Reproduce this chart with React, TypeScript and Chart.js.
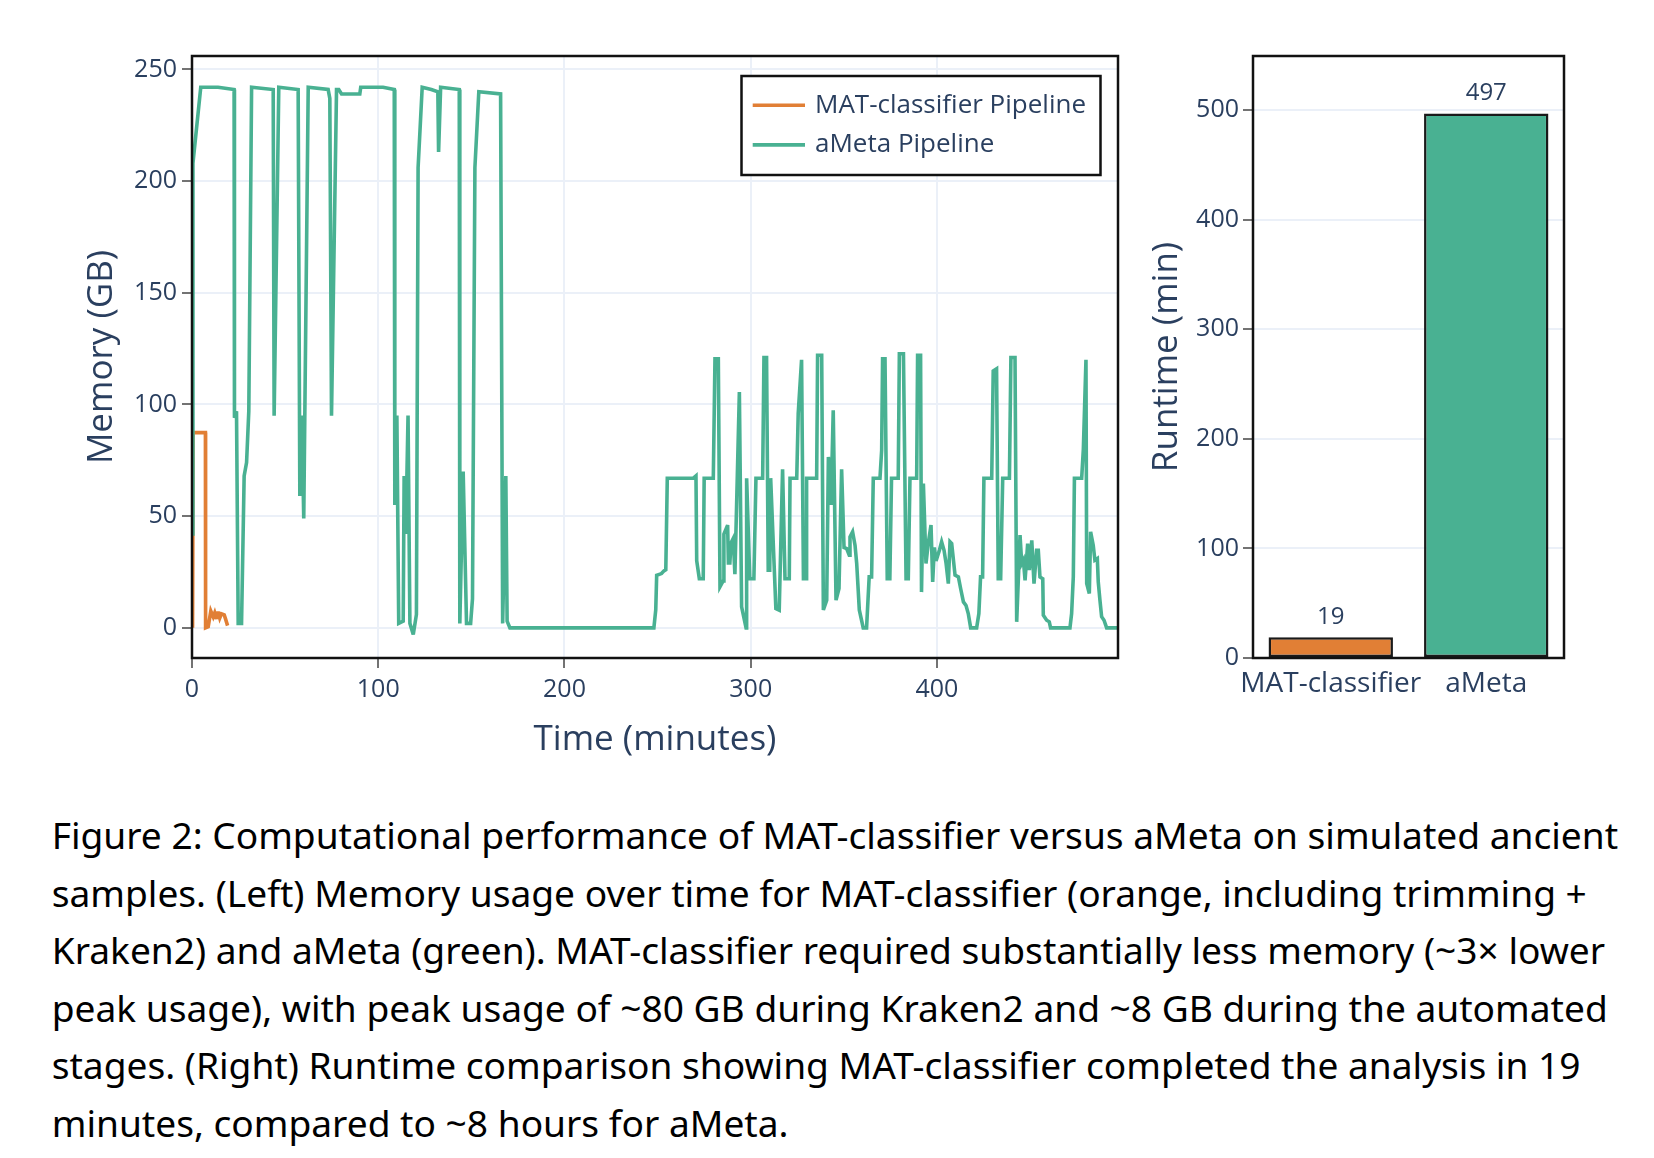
import React, { useEffect, useRef, useState } from 'react';
import { Chart, registerables } from 'chart.js';

Chart.register(...registerables);

const TEXT = '#2a3f5f';
const GRID = '#EBF0F8';
const GREEN = '#49B192';
const ORANGE = '#E17F35';

const seriesNames = ['MAT-classifier Pipeline', 'aMeta Pipeline'];

const matTime = [0.3, 0.6, 7.2, 7.3, 8.7, 10.1, 11.4, 12.2, 13.1, 14, 14.9, 15.8, 17.3, 18, 19.1];
const matMemory = [0, 87.4, 87.4, 0, 0.5, 7.5, 4.9, 6.7, 4, 7.2, 4.4, 6.3, 5.8, 4, 1];

const ametaTime = [
  0, 0.5, 4.7, 14, 22.6, 22.8, 23.9, 24.8, 26.6, 28, 29.3, 30.5, 32, 43.6, 44.1, 46.6, 57, 57.9, 59, 60,
  62.4, 73.1, 74, 74.9, 77.6, 78.8, 80.3, 90.1, 90.6, 102.6, 108.6, 108.9, 110, 111, 113.4, 113.9, 114.8, 116, 117, 118.8,
  120.5, 121.4, 123.6, 128.5, 132, 132.4, 133.5, 143.5, 143.8, 145.6, 147.4, 149.6, 150.6, 151.9, 154, 165.7, 166.8, 168.5, 169.2, 170.7,
  248, 249, 249.5, 252.1, 253.4, 254.4, 255.2, 269.2, 270.6, 271, 272.4, 274.5, 275, 279.9, 280.8, 282.6, 283.5, 285.2, 285.6, 287.6,
  288, 288.8, 289.4, 290.6, 291.5, 293.9, 295.1, 297.5, 297.8, 299.5, 301.7, 302.8, 306.4, 307.1, 308.5, 309.4, 310.2, 310.7, 313.5, 315.3,
  317.1, 318.4, 320.7, 321.1, 324.7, 325.5, 327.3, 328.3, 329.7, 330, 335.4, 335.9, 338.1, 339, 340.8, 341.7, 343.1, 344.3, 345.8, 347.4,
  348.8, 350.1, 351.5, 352.9, 353.3, 354.7, 356, 356.9, 358.3, 360.4, 362.2, 363.6, 364.9, 365.8, 369.4, 370.3, 370.8, 372.1, 373.3, 374.7,
  375.6, 379.2, 379.8, 382, 383.4, 384.6, 385.5, 389.1, 389.6, 391.2, 391.7, 392.7, 394.1, 395.3, 396.8, 397.7, 398.6, 399.5, 401.3, 402.5,
  403.8, 404.9, 406.1, 407, 407.9, 409.7, 411.5, 412.7, 414.2, 415.6, 416.8, 418.1, 421.3, 422.5, 423.4, 424.5, 425.2, 429.4, 430.2, 432,
  432.9, 434.2, 435.3, 438.9, 439.7, 441.9, 442.8, 444.6, 445.5, 446.4, 447.3, 448.7, 449.6, 450.9, 452.1, 453.5, 454.4, 455.3, 456.8, 457.1,
  458.9, 460.3, 461, 471.4, 472.3, 473.2, 473.8, 477.7, 478.6, 480, 480.4, 481.8, 482.5, 483.9, 484.8, 486.1, 486.6, 487.5, 488.4, 489.7,
  491.1, 497.2,
];
const ametaMemory = [
  42, 208, 242, 242, 241, 94, 97, 2, 2, 68, 74, 97, 242, 241, 95, 242, 241, 59, 95, 49,
  242, 241, 237, 95, 241, 241, 239, 239, 242, 242, 241, 55, 95, 2, 3, 68, 42, 95, 2, -3,
  6, 206, 242, 241, 240, 213, 242, 241, 2, 70, 2, 2, 13, 206, 240, 239, 2, 68, 3, 0,
  0, 8, 23.5, 24.3, 25.5, 26, 67, 67, 68, 30, 22, 22, 67, 67, 120.5, 120.5, 18.4, 21, 42, 46,
  29, 29, 38, 40, 24, 105.6, 9.4, 0, 67, 22, 22, 67, 67, 121, 121, 25.8, 25.8, 67, 8.6, 7.9,
  71, 22, 22, 67, 67, 96, 120, 22, 22, 67, 67, 122, 122, 8, 12.4, 76.5, 55, 97.4, 12.4, 17.6,
  71, 36, 35.5, 32.5, 40.7, 43, 37, 28.8, 8, 0, 0, 22.8, 22.8, 67, 67, 79.5, 120.5, 120.5, 22, 22,
  67, 67, 122.7, 122.7, 22, 22, 67, 67, 122, 122, 16, 64.6, 28.8, 37.7, 46, 20.6, 36, 30, 34.7, 38.5,
  34.7, 28.8, 19.8, 38.5, 37.7, 23.6, 22.8, 17.6, 11.6, 10, 6.4, 0, 0, 6.4, 22.8, 22.8, 67, 67, 115, 116,
  22, 22, 67, 67, 121, 121, 2.7, 41.5, 28.8, 30.3, 21.3, 37.7, 25.8, 39.2, 19.8, 34.7, 34.7, 22.8, 22, 5.7,
  3.4, 2.7, 0, 0, 6.4, 22.8, 67, 67, 80, 120, 19.8, 15.4, 43, 37, 30.3, 31, 20.6, 12.4, 5, 3.4,
  0, 0,
];

const timeTicks = [0, 100, 200, 300, 400];
const memoryTicks = [0, 50, 100, 150, 200, 250];

const runtimeCategories = ['MAT-classifier', 'aMeta'];
const runtimeValues = [19, 497];
const runtimeTicks = [0, 100, 200, 300, 400, 500];

const captionLines = [
  'Figure 2: Computational performance of MAT-classifier versus aMeta on simulated ancient',
  'samples. (Left) Memory usage over time for MAT-classifier (orange, including trimming +',
  'Kraken2) and aMeta (green). MAT-classifier required substantially less memory (~3× lower',
  'peak usage), with peak usage of ~80 GB during Kraken2 and ~8 GB during the automated',
  'stages. (Right) Runtime comparison showing MAT-classifier completed the analysis in 19',
  'minutes, compared to ~8 hours for aMeta.',
];

const CAPTION_FONT = '"Noto Sans"';

const fontsReady = () =>
  Promise.all([
    document.fonts.load('25px "Open Sans"'),
    document.fonts.load('35px "Open Sans"'),
    document.fonts.load('34px "Noto Sans"'),
  ]).catch(() => undefined);

const boxPlugin = {
  id: 'plotBox',
  afterDatasetsDraw(chart: any) {
    const { ctx, chartArea: a } = chart;
    ctx.save();
    ctx.strokeStyle = '#111';
    ctx.lineWidth = 2.5;
    ctx.strokeRect(a.left, a.top, a.right - a.left, a.bottom - a.top);
    ctx.restore();
  },
};

const miterPlugin = {
  id: 'miter',
  beforeDatasetsDraw(chart: any) {
    chart.ctx.miterLimit = 4;
  },
};

const legendPlugin = {
  id: 'boxLegend',
  afterDraw(chart: any) {
    const { ctx } = chart;
    const x = 741.5, y = 76, w = 359, h = 99;
    ctx.save();
    ctx.fillStyle = '#fff';
    ctx.fillRect(x, y, w, h);
    ctx.strokeStyle = '#111';
    ctx.lineWidth = 2.5;
    ctx.strokeRect(x, y, w, h);
    chart.data.datasets.forEach((ds: any, i: number) => {
      const ry = 105.3 + i * 39.6;
      ctx.strokeStyle = ds.borderColor;
      ctx.lineWidth = 3.6;
      ctx.beginPath();
      ctx.moveTo(752.7, ry);
      ctx.lineTo(805, ry);
      ctx.stroke();
      ctx.fillStyle = TEXT;
      ctx.font = '26px "Open Sans"';
      ctx.textAlign = 'left';
      ctx.textBaseline = 'middle';
      ctx.fillText(ds.label, 815, ry);
    });
    ctx.restore();
  },
};

const barLabelPlugin = {
  id: 'barLabels',
  afterDatasetsDraw(chart: any) {
    const { ctx } = chart;
    const meta = chart.getDatasetMeta(0);
    const values = chart.data.datasets[0].data;
    ctx.save();
    ctx.fillStyle = TEXT;
    ctx.font = '24px "Open Sans"';
    ctx.textAlign = 'center';
    ctx.textBaseline = 'middle';
    meta.data.forEach((bar: any, i: number) => {
      ctx.fillText(String(values[i]), bar.x, bar.y - 20);
    });
    ctx.restore();
  },
};

const tickFont = { family: 'Open Sans', size: 25 };
const titleFont = { family: 'Open Sans', size: 35 };
const gridOpts = { color: GRID, lineWidth: 2, tickColor: '#444', tickLength: 10, tickWidth: 1.5 };

function MemoryChart() {
  const ref = useRef<HTMLCanvasElement>(null);
  useEffect(() => {
    let chart: Chart | null = null;
    let cancelled = false;
    fontsReady().then(() => {
      if (cancelled || !ref.current) return;
      chart = new Chart(ref.current, {
        type: 'line',
        data: {
          datasets: [
            {
              label: seriesNames[0],
              data: matTime.map((t, i) => ({ x: t, y: matMemory[i] })),
              borderColor: ORANGE,
              backgroundColor: ORANGE,
              borderWidth: 3.6,
              pointRadius: 0,
              tension: 0,
              fill: false,
              order: 1,
            },
            {
              label: seriesNames[1],
              data: ametaTime.map((t, i) => ({ x: t, y: ametaMemory[i] })),
              borderColor: GREEN,
              backgroundColor: GREEN,
              borderWidth: 3.6,
              pointRadius: 0,
              tension: 0,
              fill: false,
              order: 0,
            },
          ],
        },
        options: {
          responsive: false,
          animation: false,
          devicePixelRatio: 1,
          layout: { padding: { left: 0, top: 56, right: 12, bottom: 0 } },
          plugins: { legend: { display: false }, tooltip: { enabled: false } },
          scales: {
            x: {
              type: 'linear',
              min: 0,
              max: 497.2,
              afterBuildTicks: (s: any) => { s.ticks = timeTicks.map((v) => ({ value: v })); },
              afterFit: (s: any) => { s.height = 122; },
              grid: gridOpts,
              border: { display: false },
              ticks: { color: TEXT, font: tickFont, padding: 7, maxRotation: 0, autoSkip: false, callback: (v: any) => String(v) },
              title: { display: true, text: 'Time (minutes)', color: TEXT, font: titleFont, padding: { top: 0, bottom: 19 } },
            },
            y: {
              type: 'linear',
              min: -13.5,
              max: 256,
              afterBuildTicks: (s: any) => { s.ticks = memoryTicks.map((v) => ({ value: v })); },
              afterFit: (s: any) => { s.width = 192; },
              grid: gridOpts,
              border: { display: false },
              ticks: { color: TEXT, font: tickFont, padding: 5, callback: (v: any) => String(v) },
              title: { display: true, text: 'Memory (GB)', color: TEXT, font: titleFont, padding: { top: 81, bottom: 0 } },
            },
          },
        } as any,
        plugins: [miterPlugin, boxPlugin, legendPlugin],
      });
    });
    return () => {
      cancelled = true;
      if (chart) chart.destroy();
    };
  }, []);
  return (
    <canvas
      ref={ref}
      width={1130}
      height={780}
      style={{ position: 'absolute', left: 0, top: 0, width: 1130, height: 780 }}
    />
  );
}

function RuntimeChart() {
  const ref = useRef<HTMLCanvasElement>(null);
  useEffect(() => {
    let chart: Chart | null = null;
    let cancelled = false;
    fontsReady().then(() => {
      if (cancelled || !ref.current) return;
      chart = new Chart(ref.current, {
        type: 'bar',
        data: {
          labels: runtimeCategories,
          datasets: [
            {
              data: runtimeValues,
              backgroundColor: [ORANGE, GREEN],
              borderColor: '#1a1a1a',
              borderWidth: 2.5,
              borderSkipped: false,
              barPercentage: 0.8,
              categoryPercentage: 1.0,
            },
          ],
        },
        options: {
          responsive: false,
          animation: false,
          devicePixelRatio: 1,
          layout: { padding: { left: 0, top: 56, right: 90, bottom: 0 } },
          plugins: { legend: { display: false }, tooltip: { enabled: false } },
          scales: {
            x: {
              afterFit: (s: any) => { s.height = 122; },
              grid: { display: false, drawTicks: false },
              border: { display: false },
              ticks: { color: TEXT, font: { family: 'Open Sans', size: 28 }, padding: 9, maxRotation: 0, autoSkip: false },
            },
            y: {
              type: 'linear',
              min: 0,
              max: 549.5,
              afterBuildTicks: (s: any) => { s.ticks = runtimeTicks.map((v) => ({ value: v })); },
              afterFit: (s: any) => { s.width = 133; },
              grid: gridOpts,
              border: { display: false },
              ticks: { color: TEXT, font: tickFont, padding: 4, callback: (v: any) => String(v) },
              title: { display: true, text: 'Runtime (min)', color: TEXT, font: titleFont, padding: { top: 25.7, bottom: 0 } },
            },
          },
        } as any,
        plugins: [boxPlugin, barLabelPlugin],
      });
    });
    return () => {
      cancelled = true;
      if (chart) chart.destroy();
    };
  }, []);
  return (
    <canvas
      ref={ref}
      width={534}
      height={780}
      style={{ position: 'absolute', left: 1120, top: 0, width: 534, height: 780 }}
    />
  );
}

function Caption() {
  const [size, setSize] = useState(34);
  useEffect(() => {
    let cancelled = false;
    fontsReady().then(() => {
      if (cancelled) return;
      const c = document.createElement('canvas').getContext('2d');
      if (!c) return;
      c.font = `100px ${CAPTION_FONT}`;
      const w = c.measureText(captionLines[0]).width;
      if (w > 0) setSize((100 * 1567) / w);
    });
    return () => { cancelled = true; };
  }, []);
  return (
    <div
      style={{
        position: 'absolute',
        left: 51.7,
        top: 806,
        fontFamily: CAPTION_FONT,
        fontSize: size,
        lineHeight: '57.6px',
        color: '#000',
        whiteSpace: 'nowrap',
      }}
    >
      {captionLines.map((l, i) => (
        <div key={i}>{l}</div>
      ))}
    </div>
  );
}

export default function App() {
  return (
    <div
      style={{
        position: 'absolute',
        left: 0,
        top: 0,
        width: 1654,
        height: 1158,
        background: '#fff',
        overflow: 'hidden',
      }}
    >
      <MemoryChart />
      <RuntimeChart />
      <Caption />
    </div>
  );
}
